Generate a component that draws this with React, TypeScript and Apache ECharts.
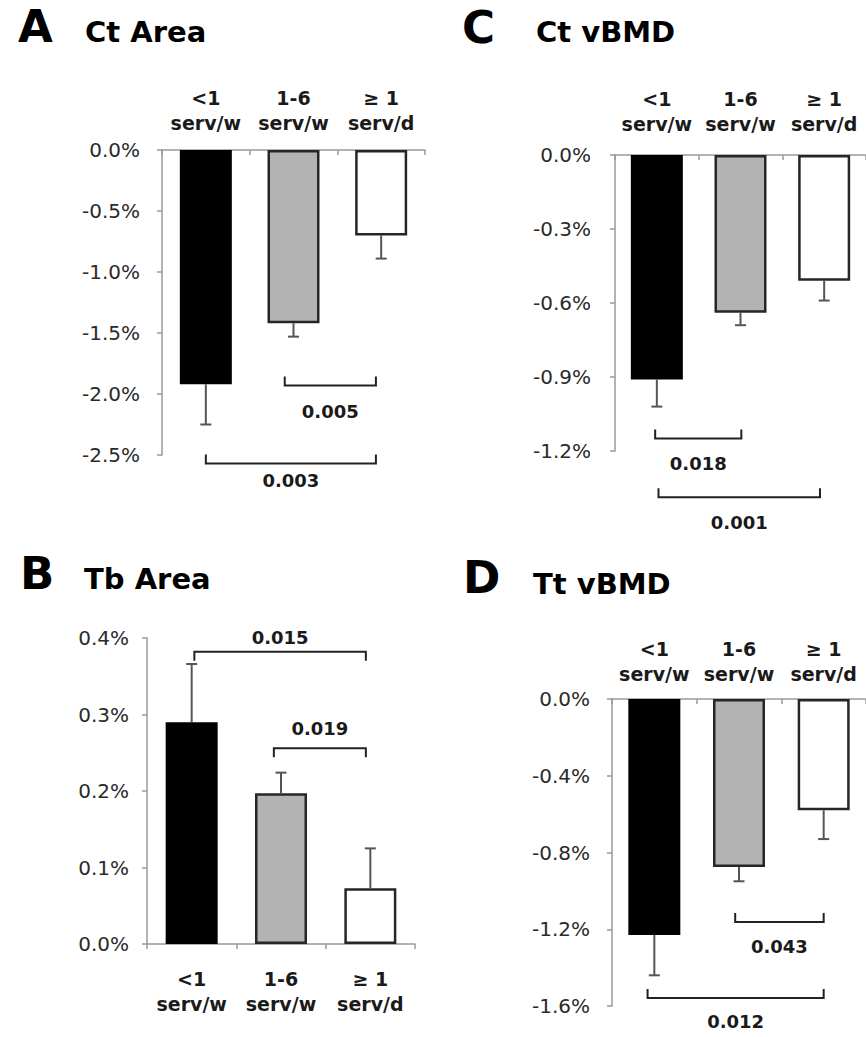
import React, { useEffect, useRef } from "react";
import * as echarts from "echarts";

// ---------- data ----------
const categories = ["<1\nserv/w", "1-6\nserv/w", "≥ 1\nserv/d"];
const barColors = ["#000000", "#b3b3b3", "#ffffff"];

// A: Ct Area (% change), mean and end of error bar
const ctAreaMean = [-1.92, -1.42, -0.7];
const ctAreaErrEnd = [-2.25, -1.53, -0.89];
// B: Tb Area
const tbAreaMean = [0.29, 0.197, 0.073];
const tbAreaErrEnd = [0.366, 0.224, 0.125];
// C: Ct vBMD
const ctVbmdMean = [-0.91, -0.64, -0.51];
const ctVbmdErrEnd = [-1.02, -0.69, -0.59];
// D: Tt vBMD
const ttVbmdMean = [-1.23, -0.875, -0.58];
const ttVbmdErrEnd = [-1.44, -0.95, -0.73];

// axis ranges [min, max, interval]
const ctAreaAxis = [-2.5, 0, 0.5];
const tbAreaAxis = [0, 0.4, 0.1];
const ctVbmdAxis = [-1.2, 0, 0.3];
const ttVbmdAxis = [-1.6, 0, 0.4];

// significance brackets: [from (category units), to (category units), y value]
const ctAreaBrackets = [
  [0.9, 1.94, -1.93],
  [0.0, 1.94, -2.57],
];
const ctAreaPValues = ["0.005", "0.003"];
const tbAreaBrackets = [
  [0.03, 1.95, 0.382],
  [0.92, 1.95, 0.256],
];
const tbAreaPValues = ["0.015", "0.019"];
const ctVbmdBrackets = [
  [-0.02, 1.01, -1.149],
  [0.02, 1.95, -1.388],
];
const ctVbmdPValues = ["0.018", "0.001"];
const ttVbmdBrackets = [
  [0.955, 2.0, -1.162],
  [-0.08, 2.0, -1.558],
];
const ttVbmdPValues = ["0.043", "0.012"];

const panelLetters = ["A", "B", "C", "D"];
const panelTitles = ["Ct Area", "Tb Area", "Ct vBMD", "Tt vBMD"];

// ---------- layout / style ----------
const FONT = "'DejaVu Sans', 'Liberation Sans', Arial, sans-serif";
const AXIS_COLOR = "#9a9a9a";
const ERR_COLOR = "#555555";

type Panel = {
  grid: { left: number; top: number; width: number; height: number };
  axis: number[];
  mean: number[];
  errEnd: number[];
  brackets: number[][];
  pvalues: string[];
  labelGap: number[]; // pixel distance of p-value text from bracket line
  top: boolean;
  yMargin: number;
  xMargin: number;
};

const panels: Panel[] = [
  { grid: { left: 162, top: 150, width: 263, height: 305 }, axis: ctAreaAxis, mean: ctAreaMean, errEnd: ctAreaErrEnd, brackets: ctAreaBrackets, pvalues: ctAreaPValues, labelGap: [26, 17], top: true, yMargin: 22, xMargin: 15 },
  { grid: { left: 147, top: 638, width: 268, height: 306 }, axis: tbAreaAxis, mean: tbAreaMean, errEnd: tbAreaErrEnd, brackets: tbAreaBrackets, pvalues: tbAreaPValues, labelGap: [14, 20], top: false, yMargin: 18, xMargin: 22 },
  { grid: { left: 615, top: 155, width: 264, height: 296 }, axis: ctVbmdAxis, mean: ctVbmdMean, errEnd: ctVbmdErrEnd, brackets: ctVbmdBrackets, pvalues: ctVbmdPValues, labelGap: [25, 25], top: true, yMargin: 24, xMargin: 19 },
  { grid: { left: 612, top: 699, width: 264, height: 307 }, axis: ttVbmdAxis, mean: ttVbmdMean, errEnd: ttVbmdErrEnd, brackets: ttVbmdBrackets, pvalues: ttVbmdPValues, labelGap: [25, 24], top: true, yMargin: 22, xMargin: 13 },
];

// title positions: [letterX, letterBaseline, titleX, titleBaseline]
const titlePos = [
  [18, 42, 85, 42],
  [20, 589, 84, 589],
  [462, 43, 536, 42],
  [463, 593, 533, 594],
];

export default function App() {
  const ref = useRef<HTMLDivElement>(null);

  useEffect(() => {
    if (!ref.current) return;
    const chart = echarts.init(ref.current, undefined, { renderer: "svg" });

    const grids: any[] = [];
    const xAxes: any[] = [];
    const yAxes: any[] = [];
    const series: any[] = [];

    panels.forEach((p, i) => {
      grids.push({ ...p.grid, containLabel: false });
      xAxes.push({
        type: "category",
        gridIndex: i,
        data: categories,
        position: p.top ? "top" : "bottom",
        axisLine: { show: true, onZero: false, lineStyle: { color: AXIS_COLOR, width: 1.5 } },
        axisTick: { show: true, inside: p.top, length: 5, lineStyle: { color: AXIS_COLOR, width: 1.5 } },
        axisLabel: {
          margin: p.xMargin,
          fontFamily: FONT,
          fontWeight: "bold",
          fontSize: 19,
          lineHeight: 25,
          color: "#1a1a1a",
          interval: 0,
        },
        splitLine: { show: false },
      });
      yAxes.push({
        type: "value",
        gridIndex: i,
        min: p.axis[0],
        max: p.axis[1],
        interval: p.axis[2],
        axisLine: { show: true, lineStyle: { color: AXIS_COLOR, width: 1.5 } },
        axisTick: { show: true, length: 5, lineStyle: { color: AXIS_COLOR, width: 1.5 } },
        axisLabel: {
          margin: p.yMargin,
          fontFamily: FONT,
          fontSize: 20,
          color: "#2a2a2a",
          formatter: (v: number) => v.toFixed(1) + "%",
        },
        splitLine: { show: false },
      });

      series.push({
        type: "bar",
        xAxisIndex: i,
        yAxisIndex: i,
        barWidth: 52,
        data: p.mean.map((v, k) => ({
          value: v,
          itemStyle: { color: barColors[k], borderColor: k === 0 ? "#000" : "#262626", borderWidth: 2.5 },
        })),
      });

      series.push({
        type: "custom",
        xAxisIndex: i,
        yAxisIndex: i,
        z: 3,
        data: p.mean.map((v, k) => [k, v, p.errEnd[k]]),
        renderItem: (params: any, api: any) => {
          const c = api.value(0);
          const a = api.coord([c, api.value(1)]);
          const b = api.coord([c, api.value(2)]);
          const st = { stroke: ERR_COLOR, lineWidth: 2 };
          return {
            type: "group",
            children: [
              { type: "line", shape: { x1: a[0], y1: a[1], x2: b[0], y2: b[1] }, style: st },
              { type: "line", shape: { x1: b[0] - 5.5, y1: b[1], x2: b[0] + 5.5, y2: b[1] }, style: st },
            ],
          };
        },
      });

      const dir = p.top ? -1 : 1; // bracket ends direction (pixels): up for negative panels
      series.push({
        type: "custom",
        xAxisIndex: i,
        yAxisIndex: i,
        z: 4,
        clip: false,
        data: p.brackets.map((b) => [0, b[2], b[0], b[1]]),
        renderItem: (params: any, api: any) => {
          const base = api.coord([0, api.value(1)]);
          const band = api.size([1, 0])[0];
          const x1 = base[0] + api.value(2) * band;
          const x2 = base[0] + api.value(3) * band;
          const y = base[1];
          const endY = y + dir * 9;
          const label = p.pvalues[params.dataIndex];
          const gap = p.labelGap[params.dataIndex];
          const textY = p.top ? y + gap : y - gap;
          const st = { stroke: "#222", lineWidth: 2, fill: null };
          return {
            type: "group",
            children: [
              {
                type: "polyline",
                shape: { points: [[x1, endY], [x1, y], [x2, y], [x2, endY]] },
                style: st,
              },
              {
                type: "text",
                style: {
                  text: label,
                  x: (x1 + x2) / 2,
                  y: textY,
                  align: "center",
                  verticalAlign: "middle",
                  fill: "#1a1a1a",
                  font: `bold 18px ${FONT}`,
                },
              },
            ],
          };
        },
      });
    });

    const graphics: any[] = [];
    titlePos.forEach((t, i) => {
      graphics.push({
        type: "text",
        x: t[0],
        y: t[1] - 0.346 * 45,
        style: { text: panelLetters[i], font: `bold 45px ${FONT}`, fill: "#000", verticalAlign: "middle" },
      });
      graphics.push({
        type: "text",
        x: t[2],
        y: t[3] - 0.346 * 29,
        style: { text: panelTitles[i], font: `bold 29px ${FONT}`, fill: "#000", verticalAlign: "middle" },
      });
    });

    chart.setOption({
      animation: false,
      backgroundColor: "#ffffff",
      textStyle: { fontFamily: FONT },
      grid: grids,
      xAxis: xAxes,
      yAxis: yAxes,
      series,
      graphic: graphics,
    });

    return () => chart.dispose();
  }, []);

  return (
    <div
      ref={ref}
      style={{ position: "absolute", left: 0, top: 0, width: 866, height: 1037, background: "#fff" }}
    />
  );
}
